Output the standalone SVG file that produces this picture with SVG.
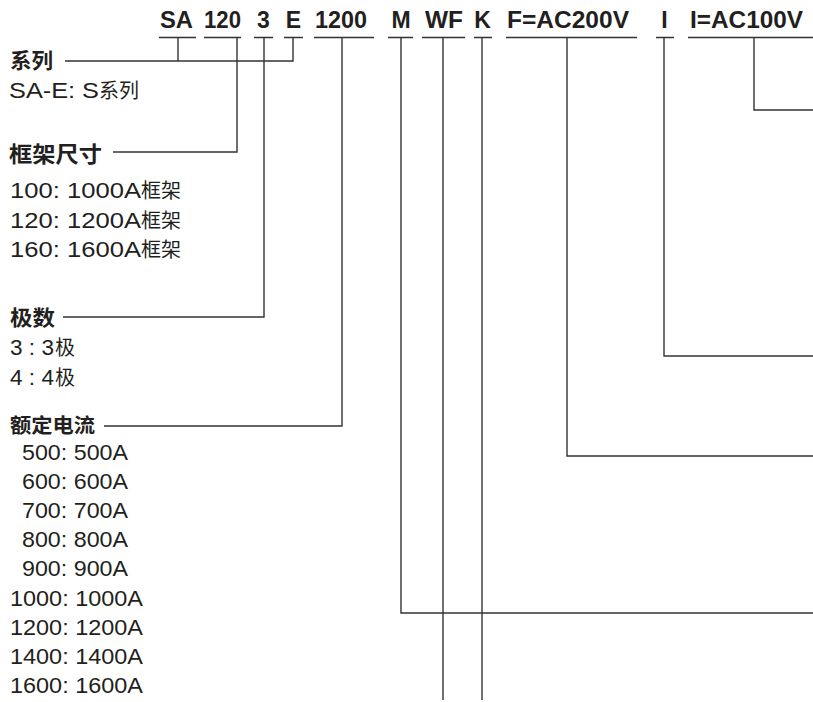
<svg xmlns="http://www.w3.org/2000/svg" width="813" height="702" viewBox="0 0 813 702">
<style>
.code{font-family:"Liberation Sans",Arial,sans-serif;font-weight:bold;font-size:23px;fill:#231f20;text-anchor:middle}
.t{font-family:"Noto Sans CJK SC","Liberation Sans",sans-serif;font-weight:bold;fill:#231f20}
.v{font-family:"Liberation Sans",Arial,sans-serif;font-size:22px;fill:#231f20}
.c{font-family:"Noto Sans CJK SC",sans-serif;font-size:20px;fill:#231f20}
.ln{stroke:#333;stroke-width:1.4;fill:none}
</style>
<rect width="813" height="702" fill="#fff"/>
<g id="code">
<text class="code" x="176.5" y="28" textLength="33" lengthAdjust="spacingAndGlyphs">SA</text>
<text class="code" x="222.5" y="28" textLength="37" lengthAdjust="spacingAndGlyphs">120</text>
<text class="code" x="263.5" y="28">3</text>
<text class="code" x="293.5" y="28">E</text>
<text class="code" x="341" y="28" textLength="52" lengthAdjust="spacingAndGlyphs">1200</text>
<text class="code" x="401" y="28">M</text>
<text class="code" x="444" y="28" textLength="38" lengthAdjust="spacingAndGlyphs">WF</text>
<text class="code" x="482.5" y="28">K</text>
<text class="code" x="568" y="28" textLength="122" lengthAdjust="spacingAndGlyphs">F=AC200V</text>
<text class="code" x="664.5" y="28">I</text>
<text class="code" x="746.5" y="28" textLength="113" lengthAdjust="spacingAndGlyphs">I=AC100V</text>
</g>
<g id="underlines" class="ln">
<path d="M159 37.5H196M204 37.5H241M254 37.5H273M284 37.5H303M314 37.5H374M388 37.5H413M422 37.5H465M474 37.5H492M506 37.5H637M656 37.5H674M688 37.5H813"/>
</g>
<g id="series">
<text class="t" x="10" y="68" font-size="21" textLength="43" lengthAdjust="spacingAndGlyphs">系列</text>
<text class="v" x="9" y="98" textLength="90" lengthAdjust="spacingAndGlyphs">SA-E: S</text>
<text class="c" x="99" y="98">系列</text>
</g>
<g id="frame">
<text class="t" x="9" y="162" font-size="22" textLength="93" lengthAdjust="spacingAndGlyphs">框架尺寸</text>
<text class="v" x="10" y="198" textLength="131" lengthAdjust="spacingAndGlyphs">100: 1000A</text>
<text class="c" x="141" y="198">框架</text>
<text class="v" x="10" y="228" textLength="131" lengthAdjust="spacingAndGlyphs">120: 1200A</text>
<text class="c" x="141" y="228">框架</text>
<text class="v" x="10" y="257" textLength="131" lengthAdjust="spacingAndGlyphs">160: 1600A</text>
<text class="c" x="141" y="257">框架</text>
</g>
<g id="poles">
<text class="t" x="10" y="325" font-size="21" textLength="45" lengthAdjust="spacingAndGlyphs">极数</text>
<text class="v" x="10" y="355" textLength="44" lengthAdjust="spacingAndGlyphs">3 : 3</text>
<text class="c" x="55" y="355">极</text>
<text class="v" x="10" y="385" textLength="44" lengthAdjust="spacingAndGlyphs">4 : 4</text>
<text class="c" x="55" y="385">极</text>
</g>
<g id="current">
<text class="t" x="10" y="433" font-size="20" textLength="85" lengthAdjust="spacingAndGlyphs">额定电流</text>
<text class="v" x="22" y="460" textLength="106" lengthAdjust="spacingAndGlyphs">500: 500A</text>
<text class="v" x="22" y="489" textLength="106" lengthAdjust="spacingAndGlyphs">600: 600A</text>
<text class="v" x="22" y="518" textLength="106" lengthAdjust="spacingAndGlyphs">700: 700A</text>
<text class="v" x="22" y="547" textLength="106" lengthAdjust="spacingAndGlyphs">800: 800A</text>
<text class="v" x="22" y="576" textLength="106" lengthAdjust="spacingAndGlyphs">900: 900A</text>
<text class="v" x="10" y="606" textLength="133" lengthAdjust="spacingAndGlyphs">1000: 1000A</text>
<text class="v" x="10" y="635" textLength="133" lengthAdjust="spacingAndGlyphs">1200: 1200A</text>
<text class="v" x="10" y="664" textLength="133" lengthAdjust="spacingAndGlyphs">1400: 1400A</text>
<text class="v" x="10" y="693" textLength="133" lengthAdjust="spacingAndGlyphs">1600: 1600A</text>
</g>
<g id="connectors" class="ln">
<path d="M178 37.5V61M293 37.5V61H65"/>
<path d="M237 37.5V152H113"/>
<path d="M264 37.5V317H63"/>
<path d="M342 37.5V426H104"/>
<path d="M401 37.5V613H813"/>
<path d="M443 37.5V700"/>
<path d="M482 37.5V700"/>
<path d="M567 37.5V456H813"/>
<path d="M664 37.5V356H813"/>
<path d="M754 37.5V110H813"/>
</g>
</svg>
